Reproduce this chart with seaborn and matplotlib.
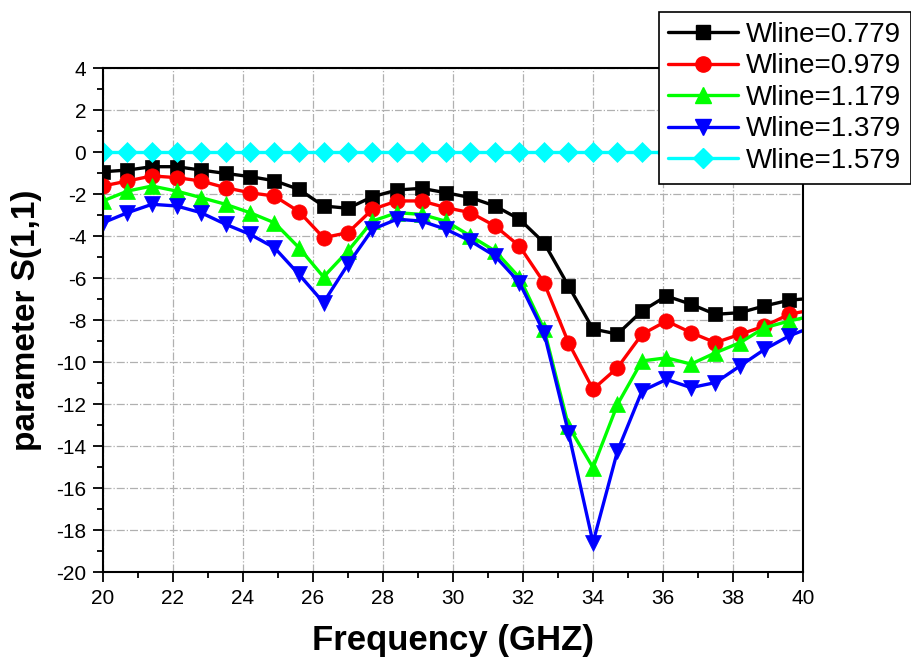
import numpy as np
import pandas as pd
import matplotlib
matplotlib.use("Agg")
import matplotlib.pyplot as plt
from matplotlib.ticker import MultipleLocator
from matplotlib.lines import Line2D
import seaborn as sns

# ---- data ----
freq = [20.0, 20.7, 21.4, 22.1, 22.8, 23.5, 24.2, 24.9, 25.6, 26.3,
        27.0, 27.7, 28.4, 29.1, 29.8, 30.5, 31.2, 31.9, 32.6, 33.3,
        34.0, 34.7, 35.4, 36.1, 36.8, 37.5, 38.2, 38.9, 39.6, 40.0]

s_0779 = [-0.94, -0.86, -0.70, -0.70, -0.86, -1.02, -1.17, -1.37, -1.78, -2.57,
          -2.68, -2.13, -1.81, -1.73, -1.94, -2.17, -2.57, -3.20, -4.32, -6.38,
          -8.43, -8.67, -7.57, -6.86, -7.25, -7.73, -7.65, -7.33, -7.06, -7.00]
s_0979 = [-1.62, -1.38, -1.14, -1.22, -1.38, -1.70, -1.94, -2.10, -2.84, -4.08,
          -3.84, -2.73, -2.33, -2.33, -2.65, -2.89, -3.52, -4.48, -6.22, -9.08,
          -11.30, -10.27, -8.68, -8.05, -8.60, -9.08, -8.68, -8.29, -7.73, -7.60]
s_1179 = [-2.33, -1.86, -1.62, -1.86, -2.17, -2.49, -2.89, -3.37, -4.56, -5.95,
          -4.71, -3.29, -2.89, -2.97, -3.30, -4.00, -4.71, -5.98, -8.43, -13.05,
          -15.03, -12.02, -9.95, -9.80, -10.10, -9.56, -9.08, -8.37, -8.05, -7.90]
s_1379 = [-3.37, -2.89, -2.49, -2.57, -2.89, -3.44, -3.92, -4.56, -5.83, -7.17,
          -5.35, -3.68, -3.20, -3.29, -3.68, -4.24, -4.95, -6.22, -8.60, -13.37,
          -18.60, -14.24, -11.38, -10.83, -11.22, -10.98, -10.19, -9.40, -8.76, -8.50]
s_1579 = [0.0] * 30

labels = ["Wline=0.779", "Wline=0.979", "Wline=1.179", "Wline=1.379", "Wline=1.579"]
series = [s_0779, s_0979, s_1179, s_1379, s_1579]
colors = ["#000000", "#FF0000", "#00FF00", "#0000FF", "#00FFFF"]
markers = ["s", "o", "^", "v", "D"]
msizes = [10, 11, 12, 12, 10]

x_ticks = list(range(20, 41, 2))
y_ticks = list(range(-20, 5, 2))

sns.set_style("white")
plt.rcParams['font.family'] = ['Liberation Sans', 'DejaVu Sans']
plt.rcParams['axes.unicode_minus'] = False
plt.rcParams['text.color'] = 'black'
plt.rcParams['axes.labelcolor'] = 'black'
plt.rcParams['xtick.color'] = 'black'
plt.rcParams['ytick.color'] = 'black'

fig = plt.figure(figsize=(9.12, 6.61), dpi=100)
ax = fig.add_axes([103/912, 1 - 572/661, (803-103)/912, (572-68)/661])

n = len(freq)
handles = []
for lab, vals, c, m, ms in zip(labels, series, colors, markers, msizes):
    df = pd.DataFrame({"freq": freq, "val": vals})
    sns.lineplot(data=df, x="freq", y="val", ax=ax, color=c, marker=m,
                 markersize=ms, markeredgecolor=c, markeredgewidth=0.5,
                 linewidth=2.4, markevery=list(range(n - 1)), legend=False,
                 clip_on=True)
    handles.append(Line2D([0], [0], color=c, marker=m, markersize=ms,
                          markeredgecolor=c, linewidth=2.4, label=lab))

ax.set_xlim(20, 40)
ax.set_ylim(-20, 4)
ax.set_xticks(x_ticks)
ax.set_yticks(y_ticks)
ax.xaxis.set_minor_locator(MultipleLocator(1))
ax.yaxis.set_minor_locator(MultipleLocator(1))
ax.tick_params(axis="both", which="major", direction="out", length=7, width=1.3,
               labelsize=15, colors="black", bottom=True, left=True, pad=5)
ax.tick_params(axis="both", which="minor", direction="out", length=4, width=1.3,
               bottom=True, left=True)
ax.grid(True, which="major", color="#b0b0b0", linestyle="-.", linewidth=0.9)
for sp in ax.spines.values():
    sp.set_visible(True)
    sp.set_color("black")
    sp.set_linewidth(1.5)

ax.set_xlabel("Frequency (GHZ)", fontsize=25, fontweight="bold", labelpad=12,
              color="black")
ax.set_ylabel("parameter S(1,1)", fontsize=24, fontweight="bold", labelpad=10,
              color="black")

leg = fig.legend(handles=handles, loc="upper right",
                 bbox_to_anchor=(911/912, 1 - 12/661), fontsize=20,
                 frameon=True, fancybox=False, edgecolor="black",
                 framealpha=1, handlelength=2.5, handletextpad=0.3,
                 labelspacing=0.2, borderpad=0.35, borderaxespad=0)
leg.get_frame().set_linewidth(1.2)
for t in leg.get_texts():
    t.set_color("black")

fig.savefig("out.png", dpi=100)
